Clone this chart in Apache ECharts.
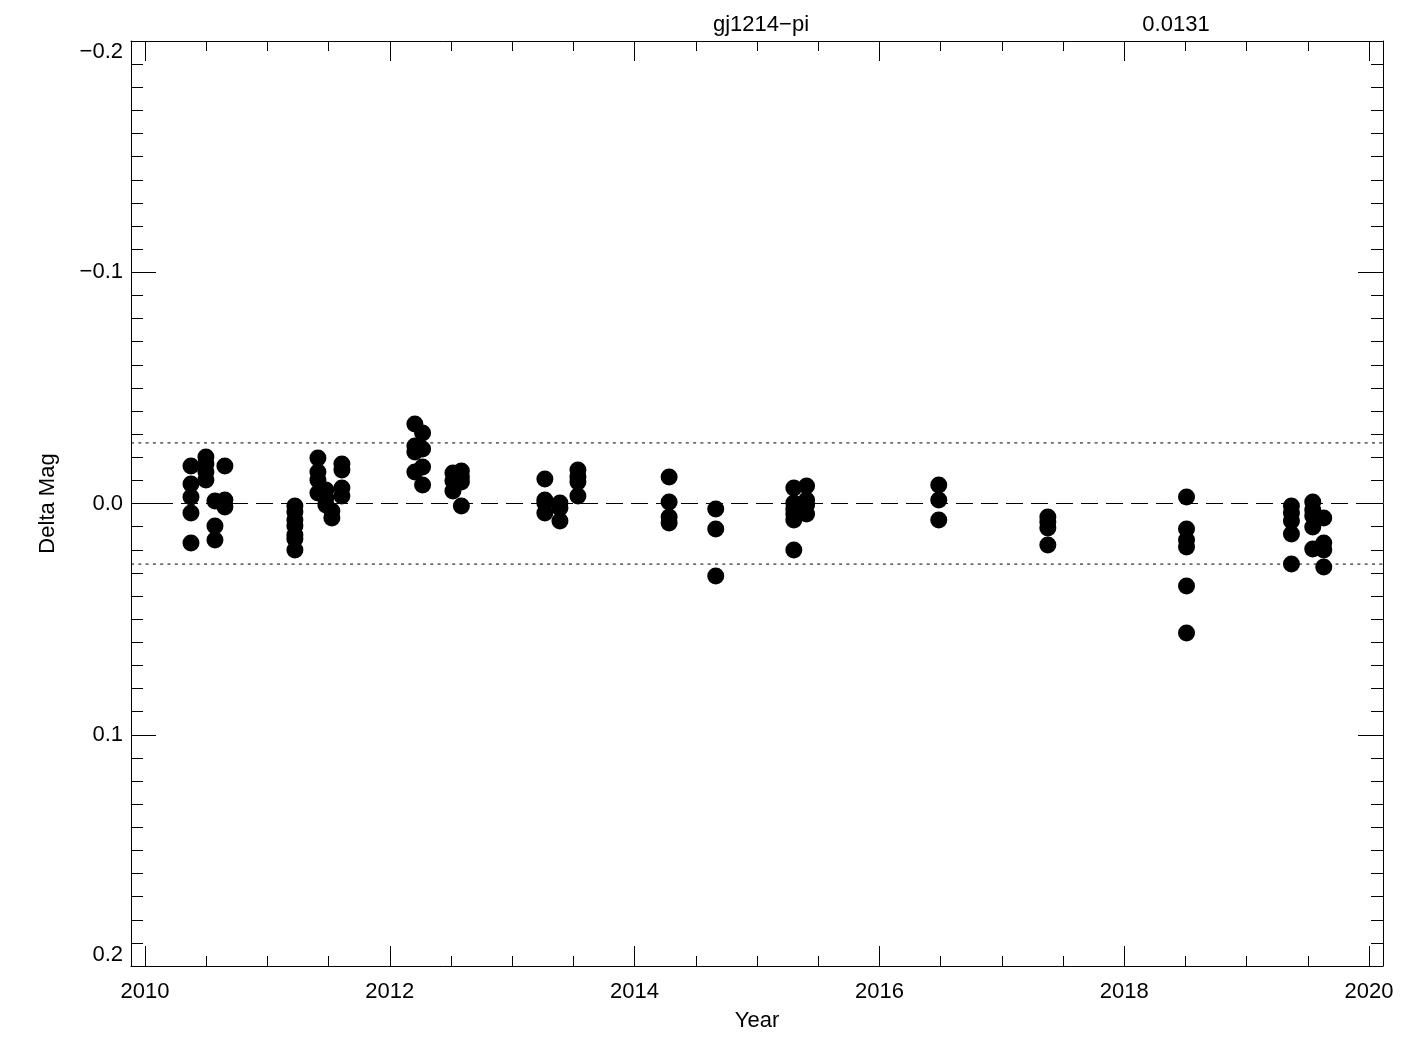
<!DOCTYPE html>
<html>
<head>
<meta charset="utf-8">
<script src="https://cdn.jsdelivr.net/npm/echarts@6/dist/echarts.min.js"></script>
<style>
html,body{margin:0;padding:0;background:#fff;}
#chart{width:1425px;height:1050px;}
</style>
</head>
<body>
<div id="chart"></div>
<script>
// ---- data ----
const titleLeft = 'gj1214\u2212pi';
const titleRight = '0.0131';
const sigma = 0.0131;
const xLabel = 'Year';
const yLabel = 'Delta Mag';
const xMajorTicks = [2010, 2012, 2014, 2016, 2018, 2020];
const xMinorTicks = [2010, 2010.5, 2011, 2011.5, 2012, 2012.5, 2013, 2013.5, 2014, 2014.5, 2015, 2015.5, 2016, 2016.5, 2017, 2017.5, 2018, 2018.5, 2019, 2019.5, 2020];
const xRange = [2009.886, 2020.114];
const yRange = [-0.2, 0.2];

const epochs = [2010.376, 2010.498, 2010.572, 2010.653, 2011.225, 2011.413, 2011.478, 2011.527, 2011.609,
  2012.205, 2012.268, 2012.516, 2012.585, 2013.267, 2013.390, 2013.537, 2014.282, 2014.663,
  2015.301, 2015.405, 2016.485, 2017.376, 2018.509, 2019.366, 2019.540, 2019.630];
const deltaMags = [
  [-0.0162, -0.0084, -0.0028, 0.0041, 0.0171],
  [-0.0201, -0.0171, -0.0136, -0.0102],
  [-0.0011, 0.0097, 0.0158],
  [-0.0162, -0.0015, 0.0015],
  [0.0011, 0.0037, 0.0071, 0.0097, 0.0136, 0.0154, 0.0201],
  [-0.0197, -0.0136, -0.0102, -0.0045],
  [-0.0058, -0.0024, 0.0006],
  [0.0032, 0.0063],
  [-0.0171, -0.0145, -0.0067, -0.0032],
  [-0.0344, -0.0249, -0.0223, -0.0136],
  [-0.0305, -0.0236, -0.0158, -0.0080],
  [-0.0132, -0.0097, -0.0054],
  [-0.0141, -0.0115, -0.0093, 0.0011],
  [-0.0106, -0.0015, -0.0002, 0.0041],
  [-0.0002, 0.0019, 0.0076],
  [-0.0145, -0.0115, -0.0093, -0.0032],
  [-0.0115, -0.0006, 0.0058, 0.0084],
  [0.0024, 0.0110, 0.0314],
  [-0.0067, -0.0002, 0.0024, 0.0045, 0.0071, 0.0201],
  [-0.0076, -0.0015, 0.0006, 0.0045],
  [-0.0080, -0.0015, 0.0071],
  [0.0058, 0.0080, 0.0106, 0.0179],
  [-0.0028, 0.0110, 0.0158, 0.0188, 0.0357, 0.0560],
  [0.0011, 0.0041, 0.0076, 0.0132, 0.0262],
  [-0.0006, 0.0028, 0.0054, 0.0102, 0.0197],
  [0.0063, 0.0171, 0.0201, 0.0275]
];

// ---- build ----
const points = [];
epochs.forEach((t, i) => deltaMags[i].forEach(v => points.push([t, v])));
const hline = v => [[xRange[0], v], [xRange[1], v]];

const FONT = "'Liberation Sans', Arial, sans-serif";
const FS = 22;
const black = '#000';

function xAxisDef(pos, ticks, len, showLine, showLabels) {
  return {
    type: 'value', position: pos, min: xRange[0], max: xRange[1],
    axisLine: { show: showLine, onZero: false, lineStyle: { color: black, width: 1 } },
    axisTick: { show: true, inside: true, length: len, customValues: ticks, lineStyle: { color: black, width: 1 } },
    axisLabel: showLabels ? { show: true, customValues: ticks, color: black, fontFamily: FONT, fontSize: FS, margin: 15, formatter: v => String(Math.round(v)) } : { show: false },
    splitLine: { show: false },
    name: showLabels ? xLabel : '', nameLocation: 'middle', nameGap: 44,
    nameTextStyle: { color: black, fontFamily: FONT, fontSize: FS }
  };
}
function yAxisDef(pos, showLabels) {
  return {
    type: 'value', position: pos, inverse: true, min: yRange[0], max: yRange[1], interval: 0.1,
    axisLine: { show: true, onZero: false, lineStyle: { color: black, width: 1 } },
    axisTick: { show: true, inside: true, length: 25, lineStyle: { color: black, width: 1 } },
    minorTick: { show: true, splitNumber: 10, length: 12, lineStyle: { color: black, width: 1 } },
    axisLabel: showLabels ? {
      show: true, color: black, fontFamily: FONT, fontSize: FS, margin: 8,
      verticalAlignMinLabel: 'top', verticalAlignMaxLabel: 'bottom',
      formatter: v => { const s = Math.abs(v).toFixed(1); return v < -1e-9 ? '\u2212' + s : s; }
    } : { show: false },
    splitLine: { show: false }, minorSplitLine: { show: false },
    name: showLabels ? yLabel : '', nameLocation: 'middle', nameGap: 72, nameRotate: 90,
    nameTextStyle: { color: black, fontFamily: FONT, fontSize: FS }
  };
}
function refLine(v, type) {
  return {
    type: 'line', xAxisIndex: 0, yAxisIndex: 0, data: hline(v),
    symbol: 'none', silent: true, z: 2,
    lineStyle: { color: black, width: 1, type: type }
  };
}

const chart = echarts.init(document.getElementById('chart'), null, { renderer: 'canvas' });
chart.setOption({
  animation: false,
  backgroundColor: '#fff',
  grid: { left: 131, top: 41, width: 1252, height: 925, containLabel: false },
  graphic: [
    { type: 'text', x: 761, y: 25, style: { text: titleLeft, fill: black, font: FS + 'px ' + FONT, textAlign: 'center', textVerticalAlign: 'middle' } },
    { type: 'text', x: 1176, y: 25, style: { text: titleRight, fill: black, font: FS + 'px ' + FONT, textAlign: 'center', textVerticalAlign: 'middle' } }
  ],
  xAxis: [
    xAxisDef('bottom', xMajorTicks, 20, true, true),
    xAxisDef('bottom', xMinorTicks, 10, false, false),
    xAxisDef('top', xMajorTicks, 20, true, false),
    xAxisDef('top', xMinorTicks, 10, false, false)
  ],
  yAxis: [yAxisDef('left', true), yAxisDef('right', false)],
  series: [
    refLine(0, [17, 8]),
    refLine(2 * sigma, [3, 4.3]),
    refLine(-2 * sigma, [3, 4.3]),
    {
      type: 'scatter', xAxisIndex: 0, yAxisIndex: 0,
      symbol: 'circle', symbolSize: 17,
      itemStyle: { color: black, opacity: 1 },
      data: points,
      silent: true,
      z: 3
    }
  ]
});
</script>
</body>
</html>
